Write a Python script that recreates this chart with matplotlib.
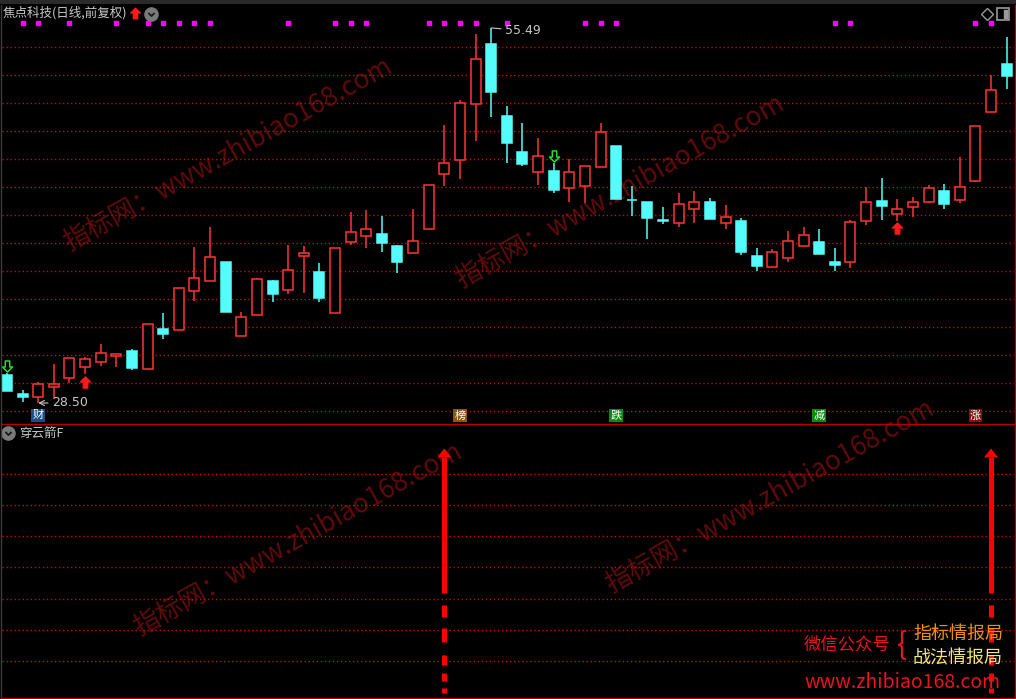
import numpy as np
import matplotlib.pyplot as plt
from matplotlib.lines import Line2D
from matplotlib.patches import Polygon, Rectangle
from matplotlib.path import Path

plt.rcParams['font.family'] = ['Noto Sans CJK SC', 'DejaVu Sans']
plt.rcParams['lines.scale_dashes'] = False

# 焦点科技 daily candles (前复权)
opens = [30.52, 29.13, 28.95, 29.63, 30.32, 31.07, 31.47, 31.90, 32.24, 30.97,
         33.83, 33.73, 36.54, 37.26, 38.65, 33.30, 34.81, 37.28, 36.61, 39.06,
         37.93, 35.00, 40.07, 40.54, 40.66, 39.80, 39.32, 41.00, 44.96, 45.97,
         50.04, 54.34, 49.16, 46.56, 45.10, 45.20, 44.00, 44.14, 45.51, 47.00,
         43.13, 42.97, 41.67, 41.43, 42.48, 42.97, 41.48, 41.60, 39.08, 38.31,
         38.96, 39.82, 40.09, 38.65, 38.67, 41.62, 43.04, 42.12, 42.63, 42.99,
         43.76, 43.13, 44.50, 49.47, 52.90]
highs = [30.64, 29.44, 29.99, 31.31, 31.72, 31.83, 32.75, 32.01, 32.39, 34.16,
         34.96, 36.76, 39.73, 41.17, 38.65, 35.05, 37.47, 37.35, 39.87, 39.80,
         38.58, 39.63, 42.25, 42.39, 41.96, 39.87, 42.46, 44.19, 48.51, 50.31,
         55.06, 55.49, 49.88, 48.65, 47.57, 45.77, 46.06, 45.54, 48.65, 47.00,
         44.12, 42.97, 42.61, 43.61, 43.76, 43.25, 42.75, 41.79, 39.66, 39.56,
         40.88, 41.17, 41.02, 39.66, 41.67, 44.05, 44.69, 43.18, 43.33, 44.19,
         44.26, 46.21, 48.44, 52.13, 54.84]
lows = [29.39, 28.59, 28.50, 28.77, 29.92, 30.57, 31.18, 31.11, 30.88, 30.90,
        33.13, 33.73, 35.86, 37.26, 35.07, 33.30, 34.81, 35.79, 36.37, 36.40,
        35.79, 35.00, 39.87, 39.68, 39.39, 37.88, 39.25, 41.00, 44.14, 44.62,
        47.38, 49.06, 45.79, 45.58, 44.21, 43.64, 42.99, 42.92, 45.51, 43.20,
        41.98, 40.32, 41.40, 41.17, 41.45, 41.76, 41.04, 39.17, 38.02, 38.31,
        38.67, 39.82, 39.25, 38.02, 38.24, 41.33, 41.69, 41.62, 41.91, 42.92,
        42.48, 42.92, 44.43, 49.47, 51.10]
closes = [29.39, 28.95, 29.87, 29.87, 31.72, 31.65, 32.08, 32.01, 31.04, 34.16,
          33.49, 36.76, 37.47, 38.99, 35.07, 34.67, 37.40, 36.37, 38.05, 39.27,
          36.08, 39.63, 40.79, 41.00, 40.04, 38.67, 40.16, 44.19, 45.75, 50.09,
          53.24, 50.90, 47.23, 45.72, 46.26, 43.85, 45.10, 45.54, 47.98, 43.20,
          43.09, 41.84, 41.62, 42.80, 42.94, 41.76, 41.87, 39.37, 38.38, 39.37,
          40.16, 40.57, 39.25, 38.45, 41.53, 42.94, 42.70, 42.44, 42.97, 43.97,
          42.84, 44.05, 48.44, 51.03, 52.06]

dot_days = [1, 2, 4, 7, 9, 10, 11, 12, 13, 18, 21, 22, 23, 27, 28, 29, 30,
            32, 37, 38, 39, 53, 54, 62, 63]
buy_days = [5, 57]
sell_days = [0, 35]
tag_days = [2, 29, 39, 52, 62]
tag_text = ['财', '榜', '跌', '减', '涨']
tag_colors = ['#1b4f86', '#8c5412', '#0b8a12', '#0b8a12', '#8a0c0c']

# 穿云箭F signals
signal_days = [28, 63]
signal_top = [7.82, 7.82]
signal_solid_from = [3.17, 3.17]

W, H = 1016, 699
RED = '#ff3333'
CYAN = '#54fcfc'
GRID = '#d40000'
FRAME = '#b40000'
GRAY = '#c8c8c8'


def fx(px):
    return px / W


def fy(py):
    return 1 - py / H


fig = plt.figure(figsize=(W / 100, H / 100), dpi=100, facecolor='black')
ax = fig.add_axes([fx(2), fy(423), fx(1014) - fx(2), fy(5) - fy(423)])
ax2 = fig.add_axes([fx(2), fy(697), fx(1014) - fx(2), fy(423) - fy(697)])
for a in (ax, ax2):
    a.set_axis_off()
    a.set_xlim(-0.32, 64.47)
ax.set_ylim(27.06, 57.14)
ax2.set_ylim(-0.155, 8.636)

dotted = (0, (1.0, 1.9))
for g in 54.14 - 2.015 * np.arange(14):
    ax.axhline(g, color=GRID, lw=1.0, ls=dotted, zorder=1)
for g in range(1, 8):
    ax2.axhline(g, color=GRID, lw=1.0, ls=dotted, zorder=1)

# candles
o, h, l, c = map(np.array, (opens, highs, lows, closes))
x = np.arange(len(c))
up = c >= o
col = np.where(up, RED, CYAN)
ax.vlines(x, l, h, colors=col, lw=1.1, zorder=2)
ax.bar(x, np.maximum(np.abs(c - o), 0.03), 0.64, bottom=np.minimum(o, c),
       color=list(np.where(up, 'black', CYAN)), edgecolor=list(col),
       linewidth=1.1, zorder=3)

# magenta dots along the top
ax.plot(dot_days, [0.957] * len(dot_days), 's', ms=2.3, color='#ff00ff',
        transform=ax.get_xaxis_transform(), clip_on=False)

up_verts = [(0, 5.5), (5, 0.5), (2.2, 0.5), (2.2, -5.5), (-2.2, -5.5),
            (-2.2, 0.5), (-5, 0.5), (0, 5.5)]
arrow_up = Path(up_verts, closed=True)
arrow_down = Path([(vx, -vy) for vx, vy in up_verts], closed=True)

bd = np.array(buy_days)
sd = np.array(sell_days)
ax.plot(bd, l[bd] - 0.56, ls='none', marker=arrow_up, ms=8,
        color='#ff1a1a', zorder=4)
ax.plot(sd, h[sd] + 0.53, ls='none', marker=arrow_down, ms=8,
        mfc='none', mec='#22ee22', mew=1, zorder=4)

# high / low marks
hi = int(np.argmax(h))
lo = int(np.argmin(l))
ax.annotate(f'{h[hi]:.2f}', xy=(hi, h[hi]), xytext=(10, -2),
            textcoords='offset points', ha='left', va='center', color=GRAY,
            fontsize=9, family='DejaVu Sans',
            arrowprops=dict(arrowstyle='-', color=GRAY, lw=0.8,
                            shrinkA=1, shrinkB=0))
ax.annotate(f'{l[lo]:.2f}', xy=(lo, l[lo]), xytext=(10, 0),
            textcoords='offset points', ha='left', va='center', color=GRAY,
            fontsize=9, family='DejaVu Sans',
            arrowprops=dict(arrowstyle='->', color=GRAY, lw=0.8,
                            shrinkA=1, shrinkB=0))

for d, t, fc in zip(tag_days, tag_text, tag_colors):
    ax.text(d, 0.018, t, transform=ax.get_xaxis_transform(), ha='center',
            va='center', fontsize=8, color='white', zorder=5,
            bbox=dict(boxstyle='square,pad=0.12', fc=fc, ec='none'))

# lower panel arrows
dash = (0, (3.6, 5.04, 5.76, 5.76, 7.2, 9.36, 10.08, 7.92, 8.64, 8.64))
for d, top, base in zip(signal_days, signal_top, signal_solid_from):
    ax2.plot([d, d], [-0.03, base], color='#ff0000', lw=3.6, ls=dash,
             dash_capstyle='butt', zorder=4)
    ax2.plot([d, d], [base, top - 0.29], color='#ff0000', lw=3.6,
             solid_capstyle='butt', zorder=4)
    ax2.add_patch(Polygon([(d - 0.45, top - 0.29), (d + 0.45, top - 0.29),
                           (d, top)], closed=True, color='#ff0000', lw=0,
                          zorder=4))

# watermarks
wm = '指标网：www.zhibiao168.com'
for px, py in [(228, 155), (620, 192), (298, 540), (770, 497)]:
    fig.text(fx(px), fy(py), wm, rotation=29, ha='center', va='center',
             rotation_mode='anchor', fontsize=19, color='#600b0b', zorder=-1)

# window chrome
fig.add_artist(Rectangle((0, fy(4)), 1, 1 - fy(4), transform=fig.transFigure,
                         color='#2a2a2a', lw=0))
fig.text(fx(3), fy(13), '焦点科技(日线,前复权)', color=GRAY, fontsize=9,
         ha='left', va='center')
fig.add_artist(Line2D([fx(135)], [fy(13)], marker=arrow_up, ms=7.5,
                      color='#ff1a1a', transform=fig.transFigure))
chevron = Path([(-1, 0.5), (0, -0.5), (1, 0.5)],
               [Path.MOVETO, Path.LINETO, Path.LINETO])
for cx, cy in [(151, 14), (8, 433)]:
    fig.add_artist(Line2D([fx(cx)], [fy(cy)], marker='o', ms=9.5,
                          color='#7a7a7a', transform=fig.transFigure))
    fig.add_artist(Line2D([fx(cx)], [fy(cy)], marker=chevron, ms=4.5,
                          mfc='none', mec='#1a1a1a', mew=1.3,
                          transform=fig.transFigure))
fig.text(fx(19), fy(433), '穿云箭F', color=GRAY, fontsize=9,
         ha='left', va='center')
fig.add_artist(Line2D([fx(987)], [fy(14)], marker='D', ms=6, mfc='none',
                      mec='#9a9a9a', mew=1, transform=fig.transFigure))
fig.add_artist(Line2D([fx(1003)], [fy(14)], marker='s', ms=8, mfc='none',
                      mec='#9a9a9a', mew=1.2, transform=fig.transFigure))
half_box = Path([(0.2, -1), (1, -1), (1, 1), (0.2, 1), (0.2, -1)], closed=True)
fig.add_artist(Line2D([fx(1003)], [fy(14)], marker=half_box, ms=6,
                      color='#9a9a9a', transform=fig.transFigure))

fig.add_artist(Line2D([fx(1), fx(1015)], [fy(423.5)] * 2, color=FRAME, lw=1,
                      transform=fig.transFigure))
fig.add_artist(Line2D([fx(1), fx(1015)], [fy(697.5)] * 2, color=FRAME, lw=1,
                      transform=fig.transFigure))
fig.add_artist(Line2D([fx(1014.5)] * 2, [fy(5), fy(698)], color=FRAME, lw=1,
                      transform=fig.transFigure))
fig.add_artist(Line2D([fx(1)] * 2, [fy(5), fy(698)], color='#3c3c3c', lw=1,
                      transform=fig.transFigure))

# promo block, bottom right
fig.text(fx(847), fy(644), '微信公众号', color='#e8141e', fontsize=12.5,
         ha='center', va='center')
fig.text(fx(902), fy(645), '{', color='#e8141e', fontsize=22,
         ha='center', va='center')
fig.text(fx(958), fy(634), '指标情报局', color='#f0900c', fontsize=13,
         ha='center', va='center')
fig.text(fx(958), fy(658), '战法情报局', color='#f0e878', fontsize=13,
         ha='center', va='center')
fig.text(fx(903), fy(683), 'www.zhibiao168.com', color='#e8141e', fontsize=14,
         ha='center', va='center')

fig.savefig('out.png', dpi=100, facecolor='black')
